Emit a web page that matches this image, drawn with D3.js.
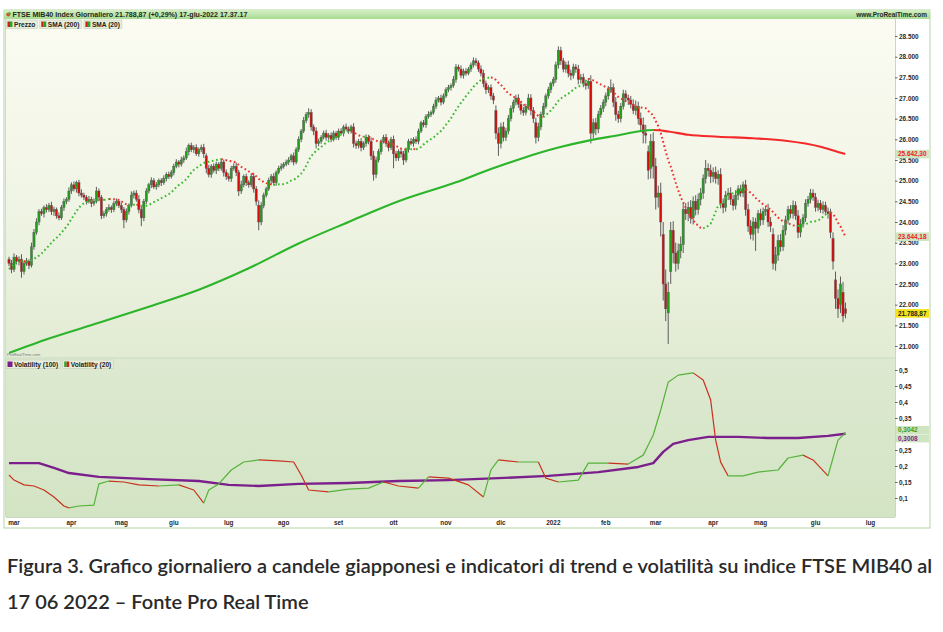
<!DOCTYPE html>
<html><head><meta charset="utf-8">
<script src="https://cdn.jsdelivr.net/npm/d3@7"></script>
<style>body{margin:0;background:#fff;} svg{display:block;}</style>
</head><body>
<svg id="c" width="943" height="632"></svg>
<script>
// ---------------- DATA ----------------
const firstDay = "2021-02-25";
const lastDay = "2022-06-17";
const axisEndDay = "2022-07-29";
const holidays = ["2021-04-02","2021-04-05","2021-12-24","2021-12-31","2022-04-15","2022-04-18"];
const monthLabels = ["mar","apr","mag","giu","lug","ago","set","ott","nov","dic","2022","feb","mar","apr","mag","giu","lug"];
const priceTicks = [21000,21500,22000,22500,23000,23500,24000,24500,25000,25500,26000,26500,27000,27500,28000,28500];
const volTicks = [0.1,0.15,0.2,0.25,0.35,0.4,0.45,0.5];

// 19 closes before the first candle (for SMA 20)
const priorCloses = [21550,21900,22300,22500,22850,23000,23100,22900,22950,23050,23250,23400,23300,23050,22950,23150,22900,22950,23100];

// daily closes, 25 feb 2021 -> 17 jun 2022
const closes = [
23000,22850,
23150,23050,23100,22800,23000,23050,22950,23400,23750,24000,24250,24200,24350,24300,24400,24250,24300,24150,24100,24350,24500,24550,24750,
24900,24800,24950,24700,24650,24600,24500,24550,24450,24500,24750,24600,24150,24200,24300,24350,24300,24450,24500,24400,
24300,24050,24250,24400,24650,24700,24550,24300,24100,24500,24750,24900,25000,24850,24900,25000,24950,25050,25150,25100,25200,
25350,25450,25400,25500,25550,25700,25850,25750,25800,25650,25750,25800,25650,25300,25150,25350,25250,25400,25300,25450,25200,25100,
25050,25300,25350,25200,24750,24900,25100,24950,24900,25100,24800,24500,24000,24400,24650,24800,25000,25100,24950,25200,25300,25350,
25400,25450,25500,25600,25450,25750,26000,26200,26450,26600,26650,26300,26200,25900,25950,26050,26150,26050,26100,26000,26150,26050,
26200,26150,26300,26250,26200,26300,25900,25850,25950,25800,25900,26050,25950,25600,25150,25500,25700,25950,26050,25900,25800,26000,
25650,25550,25700,25650,25500,25750,25950,25900,26000,25950,26200,26400,26350,26550,26600,26650,26800,26950,27000,26900,27050,
27200,27250,27300,27450,27750,27700,27550,27650,27600,27700,27800,27900,27850,27700,27600,27350,27200,27250,27050,26950,26150,25900,
26300,26050,26200,26500,26750,26900,27000,26850,26700,26650,26800,27000,26700,26500,26050,26300,26600,26800,27050,27200,27350,
27450,27800,28150,27900,27700,27800,27600,27550,27750,27700,27450,27500,27350,27300,27400,26150,26400,26250,26600,26750,26900,
27050,27200,27250,26900,26600,26500,26800,27100,27000,26950,26850,26700,26800,26500,26350,26150,26100,25250,25950,25350,
24600,24700,24000,22500,21900,22300,23800,23250,23000,23300,23450,24300,24200,24350,24100,24500,24300,24550,24700,25050,25300,25250,25100,
25200,25050,25150,24450,24350,24650,24700,24550,24400,24650,24800,24700,24900,24300,23900,23700,24000,23850,24200,
24050,24250,24300,24000,23900,23000,23200,23550,23400,23800,24050,24300,24200,24400,24150,23750,23950,24100,24450,24550,24700,24600,
24350,24450,24300,24400,24250,24200,23750,23050,22150,21900,22500,21726,21788.87
];

// opens that differ from the previous close: [day index, open]
const gapOpens = [[79,25600],[100,24400],[146,25600],[195,26700],[211,26400],[256,25700],[257,25300],[262,23700],[264,21800],[265,22800],[306,23700],[330,23600],[331,22600],[333,22000],[334,22300],[335,21900]];

// wick lengths above / below the body, tens of points
const wickUp = [
6,8,
9,5,7,12,6,8,5,10,8,9,6,7,5,8,6,9,7,5,8,6,7,5,9,
6,8,5,7,9,6,5,8,6,7,10,6,5,7,6,8,5,6,7,5,
7,6,8,5,9,6,7,10,8,6,7,5,8,6,7,5,6,8,5,7,6,
6,7,5,8,6,10,5,7,6,8,5,7,9,6,8,5,7,6,5,8,6,7,
8,6,7,9,6,10,5,7,6,8,9,7,12,8,6,5,7,6,8,5,6,7,
5,6,7,5,8,6,7,5,9,6,10,8,6,9,7,5,6,8,5,7,6,5,
6,7,5,8,6,5,9,7,6,8,5,7,6,10,12,8,7,5,6,8,7,6,
9,7,6,8,7,5,6,8,5,7,6,5,7,6,8,5,6,7,5,8,6,
6,7,5,8,7,6,9,6,7,5,6,8,7,6,9,8,7,6,8,7,12,14,
10,12,8,9,7,6,8,9,7,8,6,10,9,8,12,10,7,8,6,7,5,
6,8,10,9,7,8,10,9,8,7,10,8,9,7,8,15,10,12,9,8,7,
8,9,20,10,12,9,8,10,9,8,10,12,14,11,15,18,20,15,18,22,
20,18,25,30,35,25,20,22,25,18,20,15,16,14,18,12,15,14,12,10,20,12,14,
12,14,10,15,12,10,12,14,10,12,9,10,8,12,14,15,12,10,9,
12,10,8,14,12,15,20,14,16,12,10,9,11,12,10,14,12,9,10,8,10,9,
10,9,8,10,9,10,12,15,20,22,18,25,15
];
const wickDn = [
7,9,
6,8,10,15,7,6,9,5,7,6,8,5,9,7,6,8,10,7,6,5,8,7,6,
7,6,9,8,6,7,8,5,9,6,5,10,8,6,7,5,8,6,7,6,
8,20,6,7,5,8,6,9,20,8,7,6,8,5,7,6,8,5,7,6,5,
7,5,8,6,7,5,9,6,8,5,7,6,10,12,7,8,6,9,7,6,10,8,
7,8,6,9,12,7,6,8,7,6,9,10,20,8,7,6,5,8,6,7,5,6,
6,5,7,6,8,5,6,7,5,6,8,9,10,12,7,6,5,8,6,7,5,6,
7,6,8,5,7,6,10,8,7,9,6,8,7,10,15,9,6,7,5,8,9,6,
35,8,7,9,12,6,7,5,8,6,7,5,6,7,5,6,5,7,6,8,5,
5,6,7,5,8,6,7,8,6,5,7,6,8,7,8,9,10,8,9,10,15,30,
12,10,9,8,7,10,8,9,10,8,7,9,12,10,15,10,8,7,6,7,8,
7,8,9,10,8,9,10,12,8,9,12,10,9,10,8,25,12,15,10,8,9,
10,9,8,12,15,10,9,8,10,12,10,9,12,14,15,25,20,22,25,30,
30,25,35,40,30,75,30,25,20,15,18,20,15,18,14,16,14,12,15,14,12,15,16,
14,12,15,12,14,10,12,14,12,10,12,9,10,15,14,12,15,55,12,
14,12,10,12,14,15,18,14,12,10,12,9,11,12,10,14,12,9,10,8,10,9,
10,9,8,10,9,12,14,20,25,22,20,15,12
];

// SMA 200: [day index] and value
const sma200Day = [0,16,36,56,76,96,116,136,156,179,193,206,220,233,245,252,258,264,272,284,298,311,325,332,335];
const sma200 = [20830,21180,21560,21950,22360,22880,23480,24000,24500,24960,25280,25550,25800,25980,26110,26190,26225,26190,26110,26064,26025,25967,25822,25694,25642.30];

// Volatility (100)
const vol100Day = [0,12,18,24,36,56,76,88,100,116,136,156,176,196,216,236,252,258,262,266,272,280,292,304,316,328,335];
const vol100 = [0.209,0.209,0.194,0.178,0.166,0.159,0.153,0.141,0.1375,0.144,0.147,0.153,0.156,0.162,0.169,0.181,0.197,0.209,0.244,0.269,0.281,0.291,0.291,0.2875,0.2875,0.294,0.3008];

// Volatility (20)
const vol20Day = [0,2,6,10,14,18,22,24,28,34,36,40,46,52,60,68,74,78,80,84,89,94,100,108,114,117,120,128,136,144,150,156,164,168,176,184,190,193,196,204,212,215,220,228,232,240,248,254,258,261,264,268,274,278,281,283,285,288,294,300,308,312,318,322,325,328,330,332,335];
const vol20 = [0.172,0.156,0.141,0.1375,0.125,0.103,0.075,0.069,0.075,0.078,0.144,0.153,0.15,0.141,0.1375,0.141,0.125,0.084,0.125,0.144,0.1875,0.2125,0.219,0.216,0.2125,0.172,0.125,0.119,0.128,0.131,0.15,0.1375,0.131,0.166,0.162,0.141,0.103,0.1875,0.219,0.2125,0.2125,0.162,0.15,0.156,0.209,0.209,0.206,0.234,0.297,0.375,0.462,0.484,0.491,0.469,0.406,0.281,0.212,0.169,0.169,0.181,0.1875,0.225,0.234,0.219,0.194,0.169,0.225,0.281,0.3042];

// labels on the right axis (value shown; box centre in pixels for the lower panel)
const lastLabels = [
  {panel:"top", value:25642.30, text:"25.642,30", fg:"#ee1c1c", bg:"#cfe5c2"},
  {panel:"top", value:23644.18, text:"23.644,18", fg:"#ee1c1c", bg:"#cfe5c2"},
  {panel:"top", value:21788.87, text:"21.788,87", fg:"#222", bg:"#f2e21a"},
  {panel:"bot", value:0.3042, cy:430, text:"0,3042", fg:"#3c9a1e", bg:"#cfe5c2"},
  {panel:"bot", value:0.3008, cy:438.4, text:"0,3008", fg:"#7b1f8c", bg:"#cfe5c2"}
];
const headerText = "FTSE MIB40 Index Giornaliero 21.788,87 (+0,29%) 17-giu-2022 17.37.17";
const siteText = "www.ProRealTime.com";
const legendTop = ["Prezzo","SMA (200)","SMA (20)"];
const legendBot = ["Volatility (100)","Volatility (20)"];
const captionLines = ["Figura 3. Grafico giornaliero a candele giapponesi e indicatori di trend e volatilità su indice FTSE MIB40 al","17 06 2022 – Fonte Pro Real Time"];

// ---------------- LAYOUT ----------------
const L = {frameL:4, frameR:930, frameT:10, headB:19, plotL:6, plotR:895, topT:19, topB:357.5, botT:358.5, botB:517, axisB:528};
const C_UP="#1f9e1a", C_DN="#d40c0c", WICK="#5d5d5d";

const svg = d3.select("#c");
const defs = svg.append("defs");
const fontUI = "'Liberation Sans', Arial, sans-serif";

function tradingDays(start, end){
  const out=[]; const d=new Date(start+"T12:00:00Z"); const e=new Date(end+"T12:00:00Z");
  while(d<=e){ const wd=d.getUTCDay(); const s=d.toISOString().slice(0,10);
    if(wd!==0 && wd!==6 && !holidays.includes(s)) out.push(s);
    d.setUTCDate(d.getUTCDate()+1); }
  return out;
}
const days = tradingDays(firstDay, axisEndDay);
const nData = days.indexOf(lastDay)+1;
if(nData!==closes.length) console.warn("length mismatch", nData, closes.length);

const pxDay = 2.497;
const x = d3.scaleLinear().domain([2-(14-L.plotL)/pxDay, 2+(L.plotR-14)/pxDay]).range([L.plotL, L.plotR]);
const yP = d3.scaleLinear().domain([21000, 28500]).range([345.98, 36]);
const yV = d3.scaleLinear().domain([0.1, 0.5]).range([498, 370]);

function lin(id, stops){
  const g=defs.append("linearGradient").attr("id",id).attr("x1",0).attr("y1",0).attr("x2",0).attr("y2",1);
  stops.forEach(s=>g.append("stop").attr("offset",s[0]).attr("stop-color",s[1]));
}
lin("gHead",[[0,"#d4efc4"],[1,"#a9db92"]]);
lin("gTop",[[0,"#fbfbf2"],[0.5,"#f1f5e6"],[1,"#e2ebd4"]]);
lin("gBot",[[0,"#dde9d0"],[1,"#d3e4c4"]]);

svg.append("rect").attr("x",L.frameL).attr("y",L.frameT).attr("width",L.frameR-L.frameL).attr("height",L.axisB-L.frameT).attr("fill","#fff").attr("stroke","#b5d3a3").attr("stroke-width",1);
svg.append("rect").attr("x",L.frameL).attr("y",L.frameT).attr("width",L.frameR-L.frameL).attr("height",L.headB-L.frameT).attr("fill","url(#gHead)");
svg.append("rect").attr("x",L.plotL).attr("y",L.topT).attr("width",L.plotR-L.plotL).attr("height",L.topB-L.topT).attr("fill","url(#gTop)");
svg.append("rect").attr("x",L.plotL).attr("y",L.botT).attr("width",L.plotR-L.plotL).attr("height",L.botB-L.botT).attr("fill","url(#gBot)");
svg.append("line").attr("x1",L.plotL).attr("x2",L.plotR).attr("y1",358).attr("y2",358).attr("stroke","#bdd0ae");
svg.append("line").attr("x1",L.plotR+0.5).attr("x2",L.plotR+0.5).attr("y1",L.topT).attr("y2",L.botB).attr("stroke","#c8d8bb");
svg.append("line").attr("x1",L.plotL).attr("x2",L.plotR).attr("y1",L.botB+0.5).attr("y2",L.botB+0.5).attr("stroke","#c8d8bb");
svg.append("line").attr("x1",L.plotL-0.5).attr("x2",L.plotL-0.5).attr("y1",L.topT).attr("y2",L.botB).attr("stroke","#d0dcc4");

defs.append("clipPath").attr("id","cTop").append("rect").attr("x",L.plotL).attr("y",L.topT).attr("width",L.plotR-L.plotL).attr("height",L.topB-L.topT);
defs.append("clipPath").attr("id","cBot").append("rect").attr("x",L.plotL).attr("y",L.botT).attr("width",L.plotR-L.plotL).attr("height",L.botB-L.botT);

function fitText(sel, target){ let fs=parseFloat(sel.attr("font-size")); const w=sel.node().getComputedTextLength(); sel.attr("font-size", fs*target/w); }
svg.append("circle").attr("cx",8.3).attr("cy",14.6).attr("r",2).attr("fill","#e24a2a");
svg.append("circle").attr("cx",9.6).attr("cy",13.6).attr("r",1.3).attr("fill","#3cb83a");
const ht = svg.append("text").attr("x",12.5).attr("y",17).attr("font-family",fontUI).attr("font-weight","bold").attr("font-size",7).attr("fill","#1d2a1d").text(headerText);
fitText(ht, 235);
const st = svg.append("text").attr("x",927).attr("y",17).attr("text-anchor","end").attr("font-family",fontUI).attr("font-weight","bold").attr("font-size",7).attr("fill","#1d2a1d").text(siteText);
fitText(st, 71);

function legend(items, y0, icons){
  let xx=6;
  items.forEach((t,i)=>{
    const g=svg.append("g");
    const txt=g.append("text").attr("x",xx+8).attr("y",y0+6.6).attr("font-family",fontUI).attr("font-weight","bold").attr("font-size",6.6).attr("fill","#222").text(t);
    const w=txt.node().getComputedTextLength();
    g.insert("rect","text").attr("x",xx).attr("y",y0).attr("width",w+10).attr("height",8.5).attr("fill","#e6eedb").attr("stroke","#c4cfba").attr("stroke-width",0.6);
    const ic=icons[i];
    if(ic.length===1){ g.append("rect").attr("x",xx+1.5).attr("y",y0+1.5).attr("width",5).attr("height",5.5).attr("fill",ic[0]); }
    else { g.append("rect").attr("x",xx+1.5).attr("y",y0+1.5).attr("width",2.5).attr("height",5.5).attr("fill",ic[0]);
           g.append("rect").attr("x",xx+4).attr("y",y0+1.5).attr("width",2.5).attr("height",5.5).attr("fill",ic[1]); }
    xx += w+12.5;
  });
}
legend(legendTop, 20, [["#d4201a","#2aa52a"],["#d4201a","#2aa52a"],["#d4201a","#2aa52a"]]);
legend(legendBot, 360, [["#7b1f8c"],["#2aa52a","#d4201a"]]);

svg.append("text").attr("x",7).attr("y",356).attr("font-family",fontUI).attr("font-size",4.2).attr("fill","#7a7a7a").text("ProRealTime.com");

// ------------- candles -------------
const gapMap = new Map(gapOpens);
const candles = closes.map((c,k)=>{
  const o = gapMap.has(k) ? gapMap.get(k) : (k===0 ? priorCloses[priorCloses.length-1] : closes[k-1]);
  const hi = Math.max(o,c) + wickUp[k]*10, lo = Math.min(o,c) - wickDn[k]*10;
  return {k,o,c,hi,lo};
});
const gTop = svg.append("g").attr("clip-path","url(#cTop)");
gTop.selectAll("line.w").data(candles).join("line")
  .attr("x1",d=>x(d.k)).attr("x2",d=>x(d.k)).attr("y1",d=>yP(d.hi)).attr("y2",d=>yP(d.lo))
  .attr("stroke",WICK).attr("stroke-width",1);
gTop.selectAll("rect.b").data(candles).join("rect")
  .attr("x",d=>x(d.k)-1.1).attr("width",2.2)
  .attr("y",d=>yP(Math.max(d.o,d.c))).attr("height",d=>Math.max(0.8, yP(Math.min(d.o,d.c))-yP(Math.max(d.o,d.c))))
  .attr("fill",d=>d.c>=d.o?C_UP:C_DN).attr("stroke",WICK).attr("stroke-width",0.45);

function runs(pts){
  const out=[]; let cur=null;
  for(let j=1;j<pts.length;j++){
    const up = pts[j][1] >= pts[j-1][1];
    if(!cur || cur.up!==up){ cur={up, pts:[pts[j-1]]}; out.push(cur); }
    cur.pts.push(pts[j]);
  }
  return out;
}

// SMA 200
const s200pts = sma200Day.map((d,j)=>[d, sma200[j]]);
const s200line = d3.line().x(d=>x(d[0])).y(d=>yP(d[1])).curve(d3.curveMonotoneX);
runs(s200pts).forEach((r,ri)=>{
  const id="c200_"+ri;
  const x0=x(r.pts[0][0]), x1=x(r.pts[r.pts.length-1][0]);
  defs.append("clipPath").attr("id",id).append("rect").attr("x",x0-0.01).attr("y",L.topT).attr("width",x1-x0+0.02).attr("height",L.topB-L.topT);
  gTop.append("g").attr("clip-path","url(#"+id+")").append("path").attr("d",s200line(s200pts))
    .attr("fill","none").attr("stroke",r.up?"#2cb52a":"#f42a2a").attr("stroke-width",2.1);
});

// SMA 20 computed from closes, dotted
const allC = priorCloses.concat(closes);
const s20pts = closes.map((c,k)=>[k, d3.mean(allC.slice(k, k+20))]);
const s20line = d3.line().x(d=>x(d[0])).y(d=>yP(d[1]));
runs(s20pts).forEach(r=>{
  gTop.append("path").attr("d",s20line(r.pts)).attr("fill","none")
    .attr("stroke",r.up?"#3dba32":"#f03030").attr("stroke-width",2).attr("stroke-dasharray","1.7,2.6");
});

// ------------- volatility panel -------------
const gBot = svg.append("g").attr("clip-path","url(#cBot)");
const vline = d3.line().x(d=>x(d[0])).y(d=>yV(d[1]));
gBot.append("path").attr("d",vline(vol100Day.map((d,j)=>[d,vol100[j]]))).attr("fill","none").attr("stroke","#7b1f8c").attr("stroke-width",2.4).attr("stroke-linejoin","round");
runs(vol20Day.map((d,j)=>[d,vol20[j]])).forEach(r=>{
  gBot.append("path").attr("d",vline(r.pts)).attr("fill","none").attr("stroke",r.up?"#55b23a":"#c8321e").attr("stroke-width",1.2).attr("stroke-linejoin","round");
});

// ------------- axes -------------
const itLocale = d3.formatLocale({decimal:",", thousands:".", grouping:[3], currency:["€",""]});
const fP = itLocale.format(",.0f");
const fV = v => itLocale.format(",.2~f")(v);
const axP = d3.axisRight(yP).tickValues(priceTicks).tickFormat(fP).tickSize(2.5).tickPadding(1.5);
const axV = d3.axisRight(yV).tickValues(volTicks).tickFormat(fV).tickSize(2.5).tickPadding(1.5);
function styleAxis(g){ g.select(".domain").remove(); g.selectAll("line").attr("stroke","#666");
  g.selectAll("text").attr("font-family",fontUI).attr("font-weight","bold").attr("font-size",6.4).attr("fill","#2a2a2a"); }
svg.append("g").attr("transform",`translate(${L.plotR},0)`).call(axP).call(styleAxis);
svg.append("g").attr("transform",`translate(${L.plotR},0)`).call(axV).call(styleAxis);

lastLabels.forEach(l=>{
  const yy = l.cy!==undefined ? l.cy : yP(l.value);
  const h = l.panel==="top" ? 8.6 : 8;
  svg.append("rect").attr("x",L.plotR+1).attr("y",yy-h/2).attr("width",33).attr("height",h).attr("fill",l.bg);
  svg.append("text").attr("x",L.plotR+3).attr("y",yy+2.3).attr("font-family",fontUI).attr("font-weight","bold").attr("font-size",6.4).attr("fill",l.fg).text(l.text);
});

const monthStarts=[];
for(let k=1;k<days.length;k++){ if(days[k].slice(5,7)!==days[k-1].slice(5,7)) monthStarts.push(k); }
const xa = svg.append("g");
monthStarts.forEach((k,j)=>{
  if(j<monthLabels.length) xa.append("text").attr("x",x(k)).attr("y",524.5).attr("text-anchor","middle")
    .attr("font-family",fontUI).attr("font-weight","bold").attr("font-size",6.4).attr("fill","#2a2a2a").text(monthLabels[j]);
});

// caption
const capFont = "Lato, 'Open Sans', sans-serif";
const cap1 = svg.append("text").attr("x",7).attr("y",573).attr("font-family",capFont).attr("font-weight",600).attr("font-size",18).attr("fill","#2a2a2a").text(captionLines[0]);
fitText(cap1, 926);
svg.append("text").attr("x",7).attr("y",609).attr("font-family",capFont).attr("font-weight",600).attr("font-size",cap1.attr("font-size")).attr("fill","#2a2a2a").text(captionLines[1]);
</script>
</body></html>
